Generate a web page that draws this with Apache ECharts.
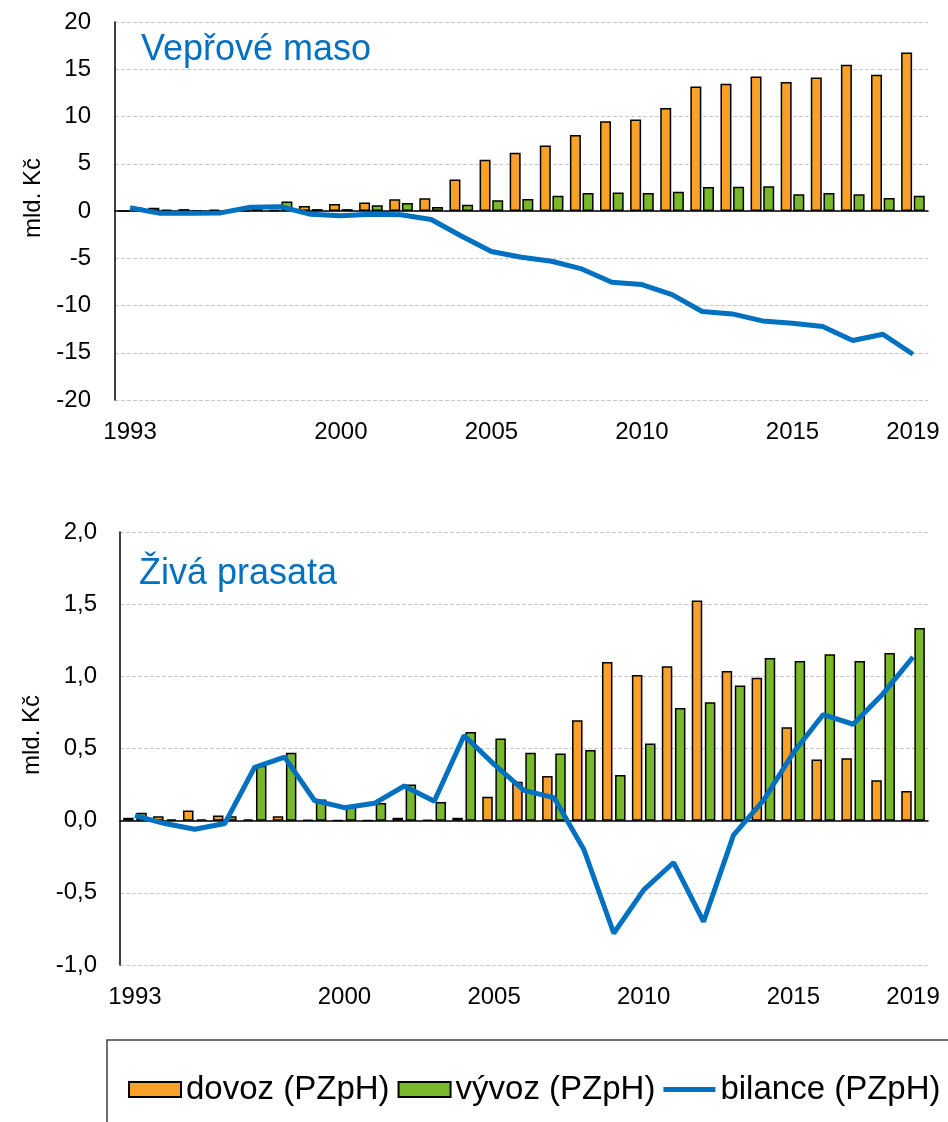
<!DOCTYPE html>
<html>
<head>
<meta charset="utf-8">
<script src="https://cdn.jsdelivr.net/npm/echarts@6/dist/echarts.min.js"></script>
<style>
  html, body { margin: 0; padding: 0; background: #fff; }
  #chart { width: 948px; height: 1122px; }
</style>
</head>
<body>
<div id="chart"></div>
<script>
const years = ['1993', '1994', '1995', '1996', '1997', '1998', '1999', '2000', '2001', '2002',
  '2003', '2004', '2005', '2006', '2007', '2008', '2009', '2010', '2011', '2012',
  '2013', '2014', '2015', '2016', '2017', '2018', '2019']
const shownYears = ['1993', '2000', '2005', '2010', '2015', '2019']

// Vepřové maso (mld. Kč)
const masoDovoz = [0.02, 0.35, 0.2, 0.15, 0.05, 0.1, 0.53, 0.74, 0.9, 1.24,
  1.34, 3.33, 5.42, 6.17, 6.94, 8.03, 9.51, 9.69, 10.89, 13.18,
  13.46, 14.24, 13.64, 14.13, 15.47, 14.41, 16.78]
const masoVyvoz = [0.4, 0.15, 0.05, 0.05, 0.35, 1.0, 0.2, 0.2, 0.6, 0.85,
  0.42, 0.67, 1.13, 1.27, 1.62, 1.9, 1.97, 1.9, 2.04, 2.54,
  2.57, 2.61, 1.76, 1.9, 1.76, 1.37, 1.62]
const masoBilance = [0.35, -0.25, -0.25, -0.2, 0.4, 0.45, -0.35, -0.5, -0.35, -0.4,
  -0.9, -2.65, -4.29, -4.9, -5.32, -6.13, -7.54, -7.79, -8.85, -10.64,
  -10.89, -11.63, -11.88, -12.23, -13.71, -13.04, -15.16]

// Živá prasata (mld. Kč)
const prasataDovoz = [0.02, 0.03, 0.07, 0.035, 0.01, 0.03, 0.005, 0.003, 0.003, 0.02,
  0.005, 0.02, 0.165, 0.27, 0.31, 0.695, 1.1, 1.01, 1.07, 1.525,
  1.037, 0.99, 0.647, 0.424, 0.433, 0.28, 0.206]
const prasataVyvoz = [0.055, 0.01, 0.01, 0.03, 0.38, 0.47, 0.147, 0.1, 0.123, 0.25,
  0.13, 0.615, 0.57, 0.47, 0.465, 0.49, 0.317, 0.535, 0.78, 0.82,
  0.936, 1.127, 1.107, 1.153, 1.107, 1.162, 1.335]
const prasataBilance = [0.035, -0.02, -0.06, -0.02, 0.37, 0.44, 0.14, 0.09, 0.12, 0.24,
  0.135, 0.59, 0.39, 0.21, 0.16, -0.2, -0.78, -0.48, -0.29, -0.7,
  -0.1, 0.14, 0.47, 0.735, 0.668, 0.88, 1.134]

const FONT = "'Liberation Sans', Arial, sans-serif"
const ORANGE = '#F7A128'
const GREEN = '#78B82A'
const BLUE = '#0070C0'

const chart = echarts.init(document.getElementById('chart'))

const lineAxis = (gridIndex) => ({
  type: 'category',
  data: years,
  gridIndex: gridIndex,
  axisLine: { onZero: true, lineStyle: { color: '#000', width: 1.5 } },
  axisTick: { show: false },
  axisLabel: { show: false },
  splitLine: { show: false }
})

const labelAxis = (gridIndex) => ({
  type: 'category',
  data: years,
  gridIndex: gridIndex,
  position: 'bottom',
  axisLine: { show: false, onZero: false },
  axisTick: { show: false },
  axisLabel: {
    interval: (i, v) => shownYears.includes(v),
    margin: 20,
    fontSize: 24,
    fontFamily: FONT,
    color: '#000'
  },
  splitLine: { show: false }
})

const valueAxis = (gridIndex, min, max, interval, fmt, margin) => ({
  type: 'value',
  gridIndex: gridIndex,
  min: min,
  max: max,
  interval: interval,
  axisLine: { show: true, lineStyle: { color: '#000', width: 1.5 } },
  axisTick: { show: false },
  axisLabel: { formatter: fmt, margin: margin, fontSize: 24, fontFamily: FONT, color: '#000' },
  splitLine: { show: true, lineStyle: { color: '#c8c8c8', type: 'dashed', width: 1 } }
})

const barSeries = (name, data, color, idx, width, gap) => ({
  name: name,
  type: 'bar',
  xAxisIndex: idx,
  yAxisIndex: idx / 2,
  data: data,
  barWidth: width,
  barGap: gap,
  itemStyle: { color: color, borderColor: '#000', borderWidth: 1.5 }
})

const lineSeries = (data, idx) => ({
  name: 'bilance (PZpH)',
  type: 'line',
  xAxisIndex: idx,
  yAxisIndex: idx / 2,
  data: data,
  symbol: 'none',
  lineStyle: { color: BLUE, width: 5 },
  itemStyle: { color: BLUE },
  z: 5
})

const option = {
  animation: false,
  backgroundColor: '#fff',
  textStyle: { fontFamily: FONT },
  title: [
    { text: 'Vepřové maso', left: 136, top: 27, textStyle: { fontSize: 36, fontWeight: 'normal', color: BLUE, fontFamily: FONT } },
    { text: 'Živá prasata', left: 134, top: 551, textStyle: { fontSize: 36, fontWeight: 'normal', color: BLUE, fontFamily: FONT } }
  ],
  legend: {
    data: [
      { name: 'dovoz (PZpH)', icon: 'rect' },
      { name: 'vývoz (PZpH)', icon: 'rect' },
      { name: 'bilance (PZpH)', icon: 'path://M0,0L52,0L52,5L0,5Z', itemStyle: { color: BLUE, borderWidth: 0 } }
    ],
    left: 123,
    top: 1068,
    itemWidth: 52,
    itemHeight: 15,
    itemGap: 8,
    textStyle: { fontSize: 33, fontFamily: FONT, color: '#000' }
  },
  grid: [
    { left: 115, right: 20, top: 22, height: 378 },
    { left: 120, right: 20, top: 532, height: 433 }
  ],
  xAxis: [lineAxis(0), labelAxis(0), lineAxis(1), labelAxis(1)],
  yAxis: [
    valueAxis(0, -20, 20, 5, v => String(v), 24),
    valueAxis(1, -1, 2, 0.5, v => v.toFixed(1).replace('.', ','), 23)
  ],
  series: [
    barSeries('dovoz (PZpH)', masoDovoz, ORANGE, 0, 11, '15%'),
    barSeries('vývoz (PZpH)', masoVyvoz, GREEN, 0, 11, '15%'),
    lineSeries(masoBilance, 0),
    barSeries('dovoz (PZpH)', prasataDovoz, ORANGE, 2, 10.5, '25%'),
    barSeries('vývoz (PZpH)', prasataVyvoz, GREEN, 2, 10.5, '25%'),
    lineSeries(prasataBilance, 2)
  ],
  graphic: [
    { type: 'text', x: 33, y: 198, rotation: Math.PI / 2,
      style: { text: 'mld. Kč', font: '24px ' + FONT, fill: '#000', align: 'center', verticalAlign: 'middle' } },
    { type: 'text', x: 32, y: 735, rotation: Math.PI / 2,
      style: { text: 'mld. Kč', font: '24px ' + FONT, fill: '#000', align: 'center', verticalAlign: 'middle' } },
    { type: 'rect', shape: { x: 107, y: 1040, width: 900, height: 200 },
      style: { fill: 'none', stroke: '#404040', lineWidth: 1.5 }, z: -1 }
  ]
}

chart.setOption(option)
</script>
</body>
</html>
